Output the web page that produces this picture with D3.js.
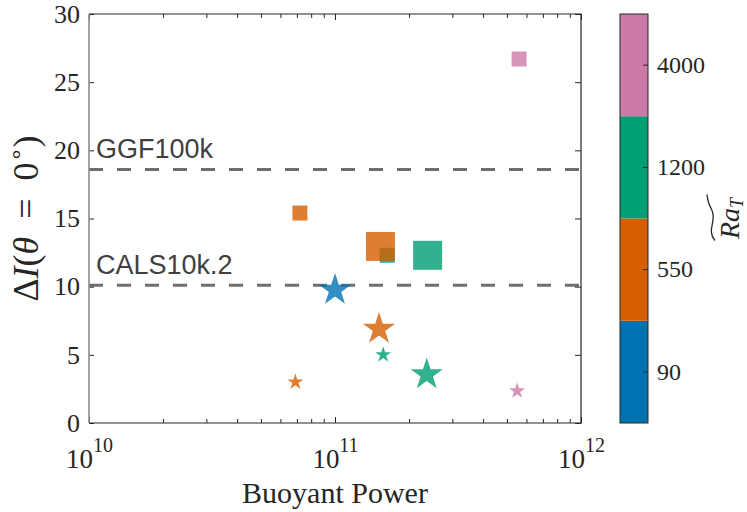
<!DOCTYPE html>
<html>
<head>
<meta charset="utf-8">
<script src="https://cdn.jsdelivr.net/npm/d3@7"></script>
<style>
  body { margin: 0; background: #fff; }
  svg { display: block; }
  .serif { font-family: "Liberation Serif", "Times New Roman", serif; fill: #262626; }
</style>
</head>
<body>
<script>
// data
var power = [5.6e11, 7.2e10, 1.63e11, 1.53e11, 2.38e11, 1.0e11, 1.51e11, 1.57e11, 2.36e11, 6.9e10, 5.5e11];
var deltaI = [26.7, 15.4, 12.3, 12.95, 12.3, 9.75, 6.9, 5.0, 3.55, 3.0, 2.35];
var raT = [4000, 550, 1200, 550, 1200, 90, 550, 1200, 1200, 550, 4000];
var marker = ["square", "square", "square", "square", "square", "star", "star", "star", "star", "star", "star"];
var group = ["small", "small", "small", "large", "large", "large", "large", "small", "large", "small", "small"];

var raLevels = [90, 550, 1200, 4000];
var raColors = ["#0072B2", "#D55E00", "#009E73", "#CC79A7"];

var refNames = ["GGF100k", "CALS10k.2"];
var refValues = [18.6, 10.1];

var yTicks = [0, 5, 10, 15, 20, 25, 30];
var xMajor = [1e10, 1e11, 1e12];

var w = 747, h = 512;
var pL = 89, pR = 581, pT = 14, pB = 423;

var svg = d3.select("body").append("svg")
    .attr("width", w)
    .attr("height", h);

var x = d3.scaleLog().domain([1e10, 1e12]).range([pL, pR]);
var y = d3.scaleLinear().domain([0, 30]).range([pB, pT]);
var color = d3.scaleOrdinal().domain(raLevels).range(raColors);

var xMinor = [];
[1e10, 1e11].forEach(function(d) {
    for (var k = 2; k <= 9; k++) xMinor.push(d * k);
});

// reference lines
svg.selectAll("line.ref").data(refValues).enter().append("line")
    .attr("class", "ref")
    .attr("x1", pL).attr("x2", pR)
    .attr("y1", function(d) { return y(d); })
    .attr("y2", function(d) { return y(d); })
    .attr("stroke", "#6e6e6e")
    .attr("stroke-width", 3)
    .attr("stroke-dasharray", "14,14");

svg.selectAll("text.ref").data(refNames).enter().append("text")
    .attr("class", "ref")
    .attr("x", 96)
    .attr("y", function(d, i) { return y(refValues[i]) - 11; })
    .attr("font-family", "'Liberation Sans', Arial, sans-serif")
    .attr("font-size", 27)
    .attr("fill", "#404040")
    .text(function(d) { return d; });

// markers
var shapeSize = {
    square: { small: 225, large: 841 },
    star: { small: 81, large: 324 }
};
var points = power.map(function(p, i) {
    return { p: p, v: deltaI[i], ra: raT[i], m: marker[i], g: group[i] };
});
svg.selectAll("path.pt").data(points).enter().append("path")
    .attr("class", "pt")
    .attr("transform", function(d) { return "translate(" + x(d.p) + "," + y(d.v) + ")"; })
    .attr("d", function(d) {
        return d3.symbol()
            .type(d.m === "square" ? d3.symbolSquare : d3.symbolStar)
            .size(shapeSize[d.m][d.g])();
    })
    .attr("fill", function(d) { return color(d.ra); })
    .attr("fill-opacity", 0.8);

// axes
var yAxis = svg.append("g").attr("transform", "translate(" + pL + ",0)")
    .call(d3.axisLeft(y).tickValues(yTicks).tickSize(-5).tickPadding(9));
yAxis.selectAll("text").attr("class", "serif").attr("font-size", 26).attr("fill", "#262626");

svg.append("g").attr("transform", "translate(" + pR + ",0)")
    .call(d3.axisRight(y).tickValues(yTicks).tickSize(-6).tickFormat(""));

svg.append("g").attr("transform", "translate(0," + pB + ")")
    .call(d3.axisBottom(x).tickValues(xMinor).tickSize(-4).tickFormat(""));
svg.append("g").attr("transform", "translate(0," + pT + ")")
    .call(d3.axisTop(x).tickValues(xMinor).tickSize(-4).tickFormat(""));
svg.append("g").attr("transform", "translate(0," + pT + ")")
    .call(d3.axisTop(x).tickValues(xMajor).tickSize(-6).tickFormat(""));

var xAxis = svg.append("g").attr("transform", "translate(0," + pB + ")")
    .call(d3.axisBottom(x).tickValues(xMajor).tickSize(-6).tickFormat(""));
xAxis.selectAll(".tick").append("text")
    .attr("class", "serif")
    .attr("y", 45)
    .attr("text-anchor", "middle")
    .attr("font-size", 27)
    .each(function(d) {
        var t = d3.select(this);
        t.append("tspan").text("10");
        t.append("tspan").attr("dy", -16).attr("font-size", 20).text(Math.round(Math.log10(d)));
    });

svg.selectAll(".domain").remove();
svg.selectAll(".tick line").attr("stroke", "#262626");

// box
svg.append("path")
    .attr("d", "M" + pL + "," + pT + "H" + pR + "V" + pB + "H" + pL)
    .attr("fill", "none").attr("stroke", "#262626").attr("stroke-width", 1.2);
svg.append("line")
    .attr("x1", pL).attr("x2", pL).attr("y1", pT).attr("y2", pB)
    .attr("stroke", "#8c8c8c").attr("stroke-width", 1.6);

// axis titles
svg.append("text")
    .attr("class", "serif")
    .attr("x", (pL + pR) / 2)
    .attr("y", 503)
    .attr("text-anchor", "middle")
    .attr("font-size", 30)
    .text("Buoyant Power");

var yl = svg.append("text")
    .attr("class", "serif")
    .attr("transform", "translate(38," + (pT + pB) / 2 + ") rotate(-90)")
    .attr("text-anchor", "middle")
    .attr("font-size", 36);
yl.append("tspan").text("Δ");
yl.append("tspan").attr("font-style", "italic").text("I");
yl.append("tspan").text("(");
yl.append("tspan").attr("font-style", "italic").text("θ");
yl.append("tspan").text("\u2002=\u20020");
yl.append("tspan").attr("dy", -14).attr("font-size", 24).text("∘");
yl.append("tspan").attr("dy", 14).text(")");

// colorbar
var cbL = 620, cbR = 648;
var cb = d3.scaleBand().domain(raLevels).range([pB, pT]);
svg.selectAll("rect.cb").data(raLevels).enter().append("rect")
    .attr("class", "cb")
    .attr("x", cbL)
    .attr("width", cbR - cbL)
    .attr("y", function(d) { return cb(d); })
    .attr("height", cb.bandwidth())
    .attr("fill", function(d) { return color(d); });

var cbAxis = svg.append("g").attr("transform", "translate(" + cbR + ",0)")
    .call(d3.axisRight(cb).tickSize(-5).tickPadding(9));
cbAxis.select(".domain").remove();
cbAxis.selectAll(".tick line").attr("stroke", "#262626");
cbAxis.selectAll("text").attr("class", "serif").attr("font-size", 24).attr("fill", "#262626");

svg.append("rect")
    .attr("x", cbL).attr("y", pT)
    .attr("width", cbR - cbL).attr("height", pB - pT)
    .attr("fill", "none").attr("stroke", "#262626").attr("stroke-width", 1);

var cl = svg.append("g")
    .attr("transform", "translate(739," + (pT + pB) / 2 + ") rotate(-90)");
var clt = cl.append("text")
    .attr("class", "serif")
    .attr("text-anchor", "middle")
    .attr("font-size", 28)
    .attr("font-style", "italic");
clt.append("tspan").text("Ra");
clt.append("tspan").attr("dy", 4).attr("font-size", 18).text("T");
cl.append("path")
    .attr("d", "M-22,-24 C-12,-33 -2,-22 8,-27 S 18,-31 24,-32")
    .attr("fill", "none").attr("stroke", "#262626").attr("stroke-width", 1.3);
</script>
</body>
</html>
